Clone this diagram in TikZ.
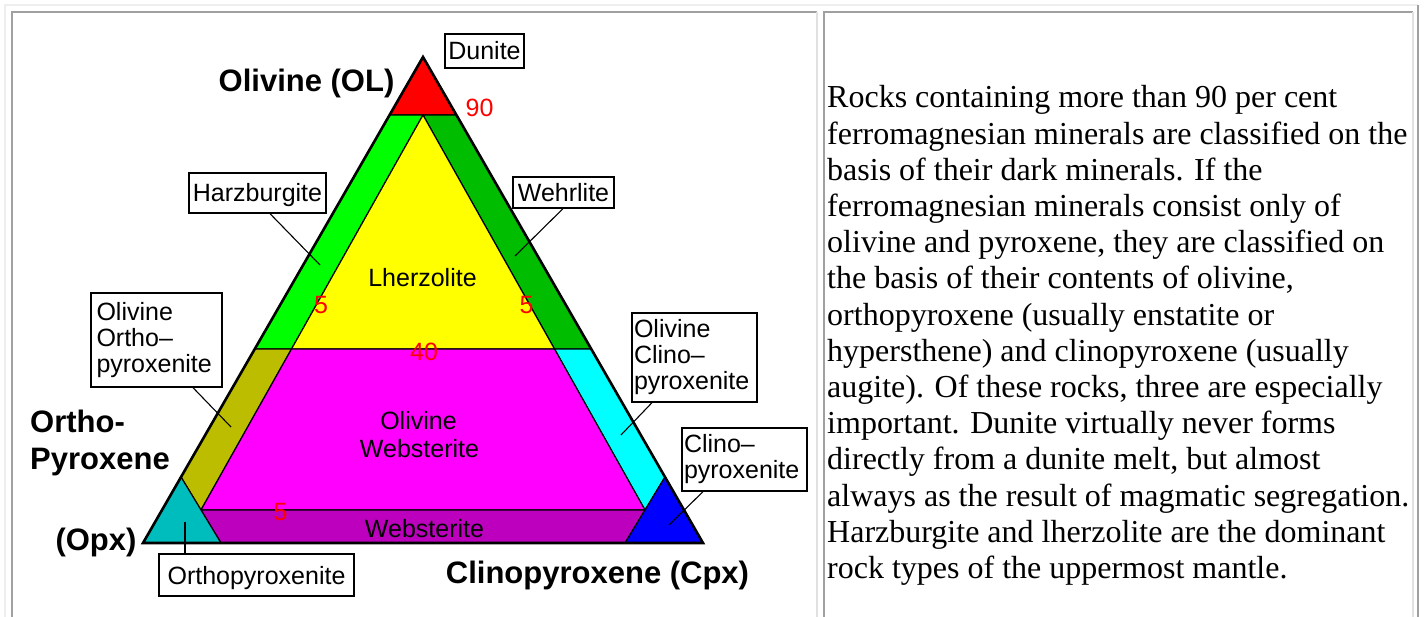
\documentclass[tikz,border=0pt]{standalone}
\usepackage{fontspec}
\setmainfont{Liberation Serif}
\newfontfamily\labfont{Liberation Sans}
\definecolor{rd}{RGB}{255,0,0}
\definecolor{grn}{RGB}{0,255,0}
\definecolor{yel}{RGB}{255,255,0}
\definecolor{mag}{RGB}{255,0,255}
\definecolor{cya}{RGB}{0,255,255}
\definecolor{blu}{RGB}{0,0,255}
\definecolor{olivegr}{RGB}{189,189,0}
\definecolor{tealc}{RGB}{0,189,189}
\definecolor{purp}{RGB}{189,0,189}
\definecolor{dkgreen}{RGB}{0,189,0}
\definecolor{tbllight}{RGB}{238,238,238}
\definecolor{tbldark}{RGB}{160,160,160}
\definecolor{cellright}{RGB}{225,225,225}
\tikzset{
  lab/.style={font=\labfont\fontsize{25}{26}\selectfont},
  box/.style={lab, draw=black, line width=1.3pt, fill=white, inner sep=0pt},
  one/.style={box, text height=22pt, text depth=4pt},
  multi/.style={box, align=left},
  title/.style={font=\labfont\bfseries\fontsize{31}{35}\selectfont, inner sep=0pt},
  num/.style={text=rd, font=\labfont\fontsize{25}{26}\selectfont, inner sep=0pt},
  inlab/.style={lab, inner sep=0pt, anchor=base},
  leader/.style={line width=1.1pt},
  region/.style={draw=black, line width=1.2pt, line join=round},
  para/.style={font=\fontsize{32}{36}\selectfont, anchor=base west, inner sep=0pt},
}
\begin{document}
\begin{tikzpicture}[x=1pt,y=-1pt]
\useasboundingbox[fill=white] (0,0) rectangle (1425,617);
% table frame
\draw[tbllight, line width=1.5pt] (5,617) -- (5,5) -- (1418,5);
\draw[tbldark, line width=2pt] (1418,5) -- (1418,617);
\draw[tbldark, line width=1.5pt] (12,617) -- (12,12) -- (817,12);
\draw[cellright, line width=1.5pt] (817,12) -- (817,617);
\draw[tbldark, line width=1.5pt] (824,617) -- (824,12) -- (1413,12);
\draw[cellright, line width=1.5pt] (1413,12) -- (1413,617);

% triangle points
\coordinate (A) at (423,57);
\coordinate (B) at (143,543);
\coordinate (C) at (703,543);
\coordinate (d1) at (389.6,115);
\coordinate (dm) at (423,115);
\coordinate (d2) at (456.4,115);
\coordinate (L40) at (254.8,349);
\coordinate (l40) at (291.5,349);
\coordinate (r40) at (554.5,349);
\coordinate (R40) at (591.2,349);
\coordinate (T1) at (181,477);
\coordinate (wl) at (201,510);
\coordinate (Ob) at (221,543);
\coordinate (T2) at (665,477);
\coordinate (wr) at (645,510);
\coordinate (Cb) at (625,543);

% regions
\filldraw[region, fill=rd] (A) -- (d1) -- (d2) -- cycle;
\filldraw[region, fill=grn] (d1) -- (dm) -- (l40) -- (L40) -- cycle;
\filldraw[region, fill=dkgreen] (dm) -- (d2) -- (R40) -- (r40) -- cycle;
\filldraw[region, fill=yel] (dm) -- (r40) -- (l40) -- cycle;
\filldraw[region, fill=olivegr] (L40) -- (l40) -- (wl) -- (T1) -- cycle;
\filldraw[region, fill=cya] (r40) -- (R40) -- (T2) -- (wr) -- cycle;
\filldraw[region, fill=mag] (l40) -- (r40) -- (wr) -- (wl) -- cycle;
\filldraw[region, fill=purp] (wl) -- (wr) -- (Cb) -- (Ob) -- cycle;
\filldraw[region, fill=tealc] (B) -- (T1) -- (Ob) -- cycle;
\filldraw[region, fill=blu] (C) -- (T2) -- (Cb) -- cycle;
\draw[line width=2.6pt, line join=miter] (A) -- (B) -- (C) -- cycle;

% inner labels
\node[inlab] (lherz) at (422.5,287) {Lherzolite};
\node[inlab] (olweb1) at (418.5,430) {Olivine};
\node[inlab] (olweb2) at (419.5,457) {Websterite};
\node[inlab] (web) at (424.5,537) {Websterite};

% red numbers
\node[num] (n90) at (479.5,108) {90};
\node[num] (n5l) at (321,305) {5};
\node[num] (n5r) at (526.5,305) {5};
\node[num] (n40) at (424,352) {40};
\node[num] (n5b) at (280.5,512) {5};

% boxed labels
\node[one, minimum width=79pt, minimum height=34pt] (dun) at (484.5,51) {Dunite};
\node[one, minimum width=137pt, minimum height=40pt] (harz) at (257.5,193) {Harzburgite};
\node[one, minimum width=101pt, minimum height=31pt] (wehr) at (563.5,192.5) {Wehrlite};
\node[one, minimum width=195pt, minimum height=42pt] (orthx) at (256.5,575) {Orthopyroxenite};
\node[multi, text width=120pt, minimum width=131pt, minimum height=94pt] (olopx) at (156.5,340) {Olivine\\Ortho–\\pyroxenite};
\node[multi, text width=121pt, minimum width=125pt, minimum height=89pt] (olcpx) at (694.5,357.5) {Olivine\\Clino–\\pyroxenite};
\node[multi, text width=121pt, minimum width=125pt, minimum height=63pt] (cpxb) at (744.5,459.5) {Clino–\\pyroxenite};

% leaders
\coordinate (hzA) at (270,0);   \coordinate (hzB) at (320,265);
\coordinate (whA) at (563,0);   \coordinate (whB) at (515,256);
\coordinate (ooA) at (193,0);   \coordinate (ooB) at (231,427);
\coordinate (ocA) at (652,0);   \coordinate (ocB) at (621,435);
\coordinate (cpA) at (703,0);   \coordinate (cpB) at (669,525);
\coordinate (opA) at (185,0);   \coordinate (opB) at (185,522);
\draw[leader] (harz.south -| hzA) -- (hzB);
\draw[leader] (wehr.south -| whA) -- (whB);
\draw[leader] (olopx.south -| ooA) -- (ooB);
\draw[leader] (olcpx.south -| ocA) -- (ocB);
\draw[leader] (cpxb.south -| cpA) -- (cpB);
\draw[leader] (orthx.north -| opA) -- (opB);

% titles
\node[title, anchor=base] (tol) at (306.5,91.7) {Olivine (OL)};
\node[title, anchor=base west] (tortho) at (30,433) {Ortho-};
\node[title, anchor=base west] (tpyr) at (30,470) {Pyroxene};
\node[title, anchor=base] (topx) at (96,550) {(Opx)};
\node[title, anchor=base] (tcpx) at (597.5,583) {Clinopyroxene (Cpx)};

% paragraph
\node[para] (p1) at (827,108.0) {Rocks containing more than 90 per cent};
\node[para] (p2) at (827,144.2) {ferromagnesian minerals are classified on the};
\node[para] (p3) at (827,180.4) {basis of their dark minerals. If the};
\node[para] (p4) at (827,216.6) {ferromagnesian minerals consist only of};
\node[para] (p5) at (827,252.8) {olivine and pyroxene, they are classified on};
\node[para] (p6) at (827,289.0) {the basis of their contents of olivine,};
\node[para] (p7) at (827,325.2) {orthopyroxene (usually enstatite or};
\node[para] (p8) at (827,361.4) {hypersthene) and clinopyroxene (usually};
\node[para] (p9) at (827,397.6) {augite). Of these rocks, three are especially};
\node[para] (p10) at (827,433.8) {important. Dunite virtually never forms};
\node[para] (p11) at (827,470.0) {directly from a dunite melt, but almost};
\node[para] (p12) at (827,506.2) {always as the result of magmatic segregation.};
\node[para] (p13) at (827,542.4) {Harzburgite and lherzolite are the dominant};
\node[para] (p14) at (827,578.6) {rock types of the uppermost mantle.};
\end{tikzpicture}
\end{document}
